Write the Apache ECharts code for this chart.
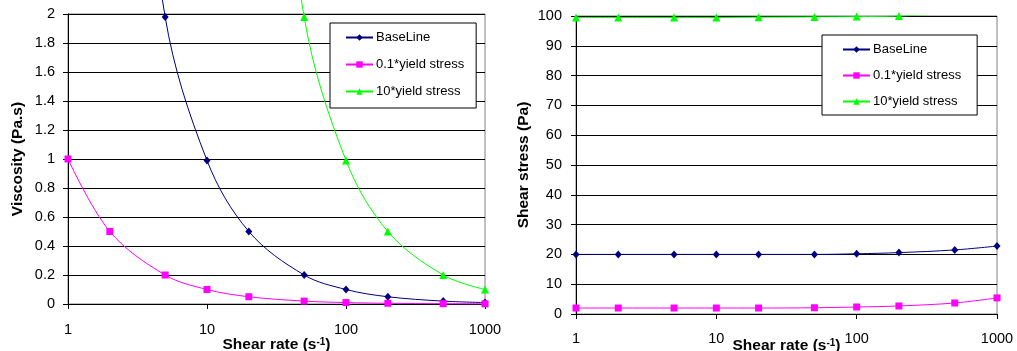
<!DOCTYPE html>
<html>
<head>
<meta charset="utf-8">
<script src="https://cdn.jsdelivr.net/npm/echarts@6/dist/echarts.min.js"></script>
<style>
  html, body { margin: 0; padding: 0; background: #fff; }
  #chart { width: 1017px; height: 351px; }
</style>
</head>
<body>
<div id="chart"></div>
<script>
// ---- data ----
const shearRates = [1, 2, 5, 10, 20, 50, 100, 200, 500, 1000];
const seriesNames = ['BaseLine', '0.1*yield stress', '10*yield stress'];
// Viscosity (Pa.s) – left chart
const viscBase = [10, 5, 1.98, 0.99, 0.5, 0.2, 0.1, 0.05, 0.02, 0.01];
const viscLow  = [1, 0.5, 0.2, 0.1, 0.05, 0.02, 0.01, 0.005, 0.002, 0.001];
const viscHigh = [100, 50, 20, 10, 5, 1.98, 0.99, 0.5, 0.2, 0.1];
// Shear stress (Pa) – right chart
const stressBase = [20, 20, 20, 20, 20, 20, 20.2, 20.6, 21.5, 22.8];
const stressLow  = [2, 2, 2, 2, 2, 2.1, 2.35, 2.7, 3.7, 5.4];
const stressHigh = [99.5, 99.5, 99.5, 99.5, 99.6, 99.7, 99.8, 100, 101, 102.5];
// axis ticks
const xTicks = [1, 10, 100, 1000];
const viscTicks = [0, 0.2, 0.4, 0.6, 0.8, 1, 1.2, 1.4, 1.6, 1.8, 2];
const stressTicks = [0, 10, 20, 30, 40, 50, 60, 70, 80, 90, 100];

// ---- styles ----
const FONT = '"Liberation Sans", Arial, sans-serif';
const colors = ['#000080', '#FF00FF', '#00FF00'];
const symbols = ['diamond', 'rect', 'triangle'];
const symbolSizes = [[7, 8], 7, 8];

const pairs = (ys) => shearRates.map((x, i) => [x, ys[i]]);

function mkSeries(idx, ys, gridIdx, clip) {
  return {
    name: seriesNames[idx],
    type: 'line',
    xAxisIndex: gridIdx,
    yAxisIndex: gridIdx,
    data: pairs(ys),
    smooth: 0.35,
    clip: clip,
    symbol: symbols[idx],
    symbolSize: symbolSizes[idx],
    showSymbol: true,
    showAllSymbol: true,
    itemStyle: { color: colors[idx] },
    lineStyle: { color: colors[idx], width: 1 },
    emphasis: { disabled: true },
    animation: false,
    z: 3 + idx
  };
}

const axisNameRich = {
  b: { fontFamily: FONT, fontWeight: 'bold', fontSize: 15.5, color: '#000' },
  s: { fontFamily: FONT, fontWeight: 'bold', fontSize: 10, color: '#000', verticalAlign: 'top', padding: [0, 0, 6, 0] }
};

function mkXAxis(gridIdx, nameGap, labelMargin) {
  return {
    type: 'log',
    gridIndex: gridIdx,
    logBase: 10,
    min: xTicks[0],
    max: xTicks[xTicks.length - 1],
    interval: 1,
    name: '{b|Shear rate (s}{s|-1}{b|)}',
    nameLocation: 'middle',
    nameGap: nameGap,
    nameMoveOverlap: false,
    nameTextStyle: { rich: axisNameRich },
    axisLine: { show: true, onZero: false, lineStyle: { color: '#000', width: 1 } },
    axisTick: { show: true, length: 5, inside: false, lineStyle: { color: '#000' } },
    minorTick: { show: false },
    splitLine: { show: false },
    axisLabel: {
      margin: labelMargin,
      fontFamily: FONT, fontSize: 14.5, color: '#000',
      formatter: (v) => String(Math.round(v))
    }
  };
}

function mkYAxis(gridIdx, ticks, name, nameGap, margin) {
  return {
    type: 'value',
    gridIndex: gridIdx,
    min: ticks[0],
    max: ticks[ticks.length - 1],
    interval: ticks[1] - ticks[0],
    name: name,
    nameLocation: 'middle',
    nameGap: nameGap,
    nameMoveOverlap: false,
    nameTextStyle: { fontFamily: FONT, fontWeight: 'bold', fontSize: 15.5, color: '#000' },
    axisLine: { show: true, onZero: false, lineStyle: { color: '#000', width: 1 } },
    axisTick: { show: true, length: 5, inside: false, lineStyle: { color: '#000' } },
    splitLine: { show: true, lineStyle: { color: '#000', width: 1 } },
    axisLabel: {
      margin: margin,
      fontFamily: FONT, fontSize: 14.5, color: '#000',
      formatter: (v) => String(Math.round(v * 100) / 100)
    }
  };
}

function mkLegend(left, top, itemGap, padding) {
  return {
    orient: 'vertical',
    left: left,
    top: top,
    data: seriesNames,
    itemWidth: 27,
    itemHeight: 8,
    itemGap: itemGap,
    padding: padding,
    backgroundColor: '#fff',
    borderColor: '#000',
    borderWidth: 1,
    borderRadius: 0,
    selectedMode: false,
    textStyle: { fontFamily: FONT, fontSize: 13, color: '#000', padding: [0, 0, 0, -2] },
    z: 10
  };
}

const chart = echarts.init(document.getElementById('chart'), null, { renderer: 'canvas' });
chart.setOption({
  backgroundColor: '#fff',
  animation: false,
  grid: [
    { left: 68, top: 14, width: 417, height: 290, outerBoundsMode: 'none', containLabel: false, show: true, borderColor: '#808080', borderWidth: 1, backgroundColor: 'transparent' },
    { left: 576, top: 16, width: 421, height: 298, outerBoundsMode: 'none', containLabel: false, show: true, borderColor: '#808080', borderWidth: 1, backgroundColor: 'transparent' }
  ],
  legend: [
    mkLegend(330, 23, 14, [8, 12, 10, 15]),
    mkLegend(822, 35, 13, [8, 16, 7, 20])
  ],
  xAxis: [ mkXAxis(0, 33, 18), mkXAxis(1, 24, 17) ],
  yAxis: [
    mkYAxis(0, viscTicks, 'Viscosity (Pa.s)', 42, 13),
    mkYAxis(1, stressTicks, 'Shear stress (Pa)', 44, 14)
  ],
  series: [
    mkSeries(0, viscBase, 0, false),
    mkSeries(1, viscLow, 0, false),
    mkSeries(2, viscHigh, 0, false),
    mkSeries(0, stressBase, 1, true),
    mkSeries(1, stressLow, 1, true),
    mkSeries(2, stressHigh, 1, true)
  ]
});
</script>
</body>
</html>
